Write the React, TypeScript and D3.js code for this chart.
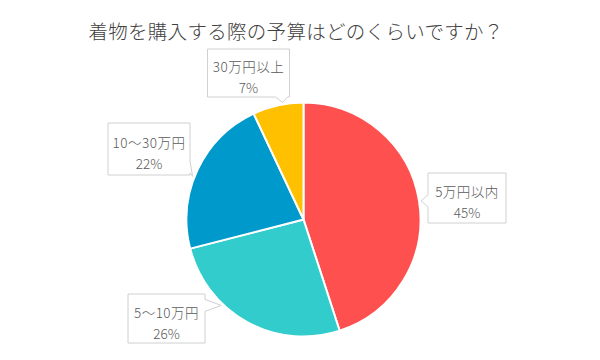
import { useMemo } from "react";
import * as d3 from "d3";

const W = 600;
const H = 360;

const TITLE = "着物を購入する際の予算はどのくらいですか？";
const CATEGORIES = ["5万円以内", "5〜10万円", "10〜30万円", "30万円以上"];
const VALUES = [45, 26, 22, 7];
const COLORS = ["#FF5050", "#33CCCC", "#0099CC", "#FFC000"];

// callout layout: box centre, size, and where along the slice the tail points
const CALLOUTS = [
  { cx: 467, cy: 198, w: 78, h: 50, at: 0.5 },
  { cx: 166.5, cy: 318.5, w: 77, h: 49, at: 0.66 },
  { cx: 149, cy: 149, w: 82, h: 52, at: 0.45 },
  { cx: 248.5, cy: 73, w: 82, h: 48, at: 0.6 },
];

const CENTER = { x: 303.5, y: 219.5 };
const RADIUS = 117;
const FONT = "'Noto Sans CJK JP', 'Noto Sans', sans-serif";

// rectangle outline with a pointer tail inserted on the side facing the tip
const calloutPath = (
  x0: number,
  y0: number,
  x1: number,
  y1: number,
  tx: number,
  ty: number
) => {
  const half = 6;
  const clamp = (v: number, a: number, b: number) => Math.max(a + 2, Math.min(b - 2, v));
  const d = { left: x0 - tx, right: tx - x1, top: y0 - ty, bottom: ty - y1 };
  const side = (Object.keys(d) as (keyof typeof d)[]).reduce((a, b) => (d[a] > d[b] ? a : b));
  const pts: [number, number][] = [[x0, y0]];
  if (side === "top") {
    const c = clamp(tx, x0 + half, x1 - half);
    pts.push([c - half, y0], [tx, ty], [c + half, y0]);
  }
  pts.push([x1, y0]);
  if (side === "right") {
    const c = clamp(ty, y0 + half, y1 - half);
    pts.push([x1, c - half], [tx, ty], [x1, c + half]);
  }
  pts.push([x1, y1]);
  if (side === "bottom") {
    const c = clamp(tx, x0 + half, x1 - half);
    pts.push([c + half, y1], [tx, ty], [c - half, y1]);
  }
  pts.push([x0, y1]);
  if (side === "left") {
    const c = clamp(ty, y0 + half, y1 - half);
    pts.push([x0, c + half], [tx, ty], [x0, c - half]);
  }
  return "M" + pts.map((p) => p.join(",")).join("L") + "Z";
};

const App = () => {
  const arcs = useMemo(
    () =>
      d3
        .pie<number>()
        .sort(null)
        .value((d) => d)(VALUES),
    []
  );
  const arc = d3.arc<d3.PieArcDatum<number>>().innerRadius(0).outerRadius(RADIUS);
  const total = d3.sum(VALUES);

  return (
    <svg width={W} height={H} style={{ display: "block", position: "absolute", left: 0, top: 0 }}>
      <rect width={W} height={H} fill="#fff" />
      <text
        x={W / 2 - 4}
        y={30}
        textAnchor="middle"
        dominantBaseline="central"
        fontFamily={FONT}
        fontSize={19.5}
        fontWeight={300}
        letterSpacing={0.3}
        fill="#404040"
      >
        {TITLE}
      </text>
      <g transform={`translate(${CENTER.x},${CENTER.y})`}>
        {arcs.map((a, i) => (
          <path key={i} d={arc(a) || ""} fill={COLORS[i]} stroke="#fff" strokeWidth={2} />
        ))}
      </g>
      {arcs.map((a, i) => {
        const c = CALLOUTS[i];
        const ang = a.startAngle + (a.endAngle - a.startAngle) * c.at;
        const tx = CENTER.x + (RADIUS + 2) * Math.sin(ang);
        const ty = CENTER.y - (RADIUS + 2) * Math.cos(ang);
        const x0 = c.cx - c.w / 2;
        const y0 = c.cy - c.h / 2;
        return (
          <g key={i}>
            <path
              d={calloutPath(x0, y0, x0 + c.w, y0 + c.h, tx, ty)}
              fill="#fff"
              stroke="#D0D0D0"
              strokeWidth={1}
            />
            <text
              x={c.cx}
              y={c.cy - 7}
              textAnchor="middle"
              dominantBaseline="central"
              fontFamily={FONT}
              fontSize={13.5}
              fontWeight={300}
              letterSpacing={0.5}
              fill="#595959"
            >
              {CATEGORIES[i]}
            </text>
            <text
              x={c.cx}
              y={c.cy + 14}
              textAnchor="middle"
              dominantBaseline="central"
              fontFamily={FONT}
              fontSize={13.5}
              fontWeight={300}
              fill="#595959"
            >
              {`${Math.round((VALUES[i] / total) * 100)}%`}
            </text>
          </g>
        );
      })}
    </svg>
  );
};

export default App;
